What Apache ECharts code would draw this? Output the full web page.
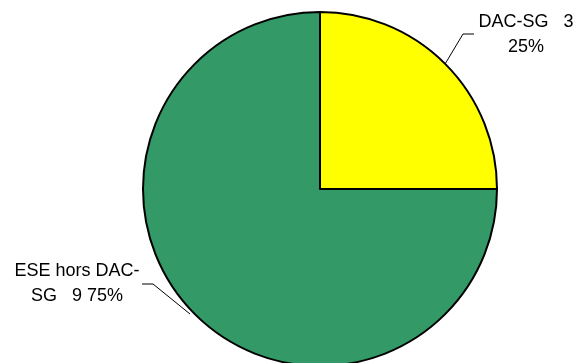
<!DOCTYPE html>
<html>
<head>
<meta charset="utf-8">
<script src="https://cdn.jsdelivr.net/npm/echarts@6/dist/echarts.min.js"></script>
<style>
html,body{margin:0;padding:0;background:#fff;}
#c{width:584px;height:363px;}
</style>
</head>
<body>
<div id="c"></div>
<script>
const categories = ['DAC-SG', 'ESE hors DAC-SG'];
const values = [3, 9];
const labelTexts = ['DAC-SG   3\n25%', 'ESE hors DAC-\nSG   9 75%'];
const colors = ['#FFFF00', '#339966'];

const chart = echarts.init(document.getElementById('c'), null, {renderer: 'canvas'});
const cx = 320, cy = 189, R = 177;

// label anchor placements and leader line bends
const labelPos = [
  {x: 526, y: 35, line: [[463, 34], [474, 34]]},
  {x: 77, y: 284, line: [[153, 284], [142, 284]]}
];

chart.setOption({
  animation: false,
  backgroundColor: '#ffffff',
  series: [{
    type: 'pie',
    center: [cx, cy],
    radius: [0, R],
    startAngle: 90,
    clockwise: true,
    data: categories.map((n, i) => ({
      name: n, value: values[i],
      itemStyle: {color: colors[i]}
    })),
    itemStyle: {borderColor: '#000000', borderWidth: 2},
    label: {
      show: true,
      position: 'outside',
      formatter: p => labelTexts[p.dataIndex],
      color: '#000000',
      fontFamily: 'Liberation Sans, Arial, sans-serif',
      fontSize: 18,
      lineHeight: 25,
      align: 'center'
    },
    labelLine: {
      show: true,
      length: 20,
      length2: 10,
      lineStyle: {color: '#000000', width: 1}
    },
    labelLayout: function (params) {
      const i = params.dataIndex;
      const lp = labelPos[i];
      const mid = (i === 0) ? Math.PI / 4 : Math.PI * 5 / 4;
      const start = [cx + R * Math.cos(mid), cy - R * Math.sin(mid)];
      if (i === 1) { start[0] = 190; start[1] = 314; }
      return {
        x: lp.x,
        y: lp.y,
        align: 'center',
        verticalAlign: 'middle',
        labelLinePoints: [start, lp.line[0], lp.line[1]]
      };
    }
  }]
});
</script>
</body>
</html>
